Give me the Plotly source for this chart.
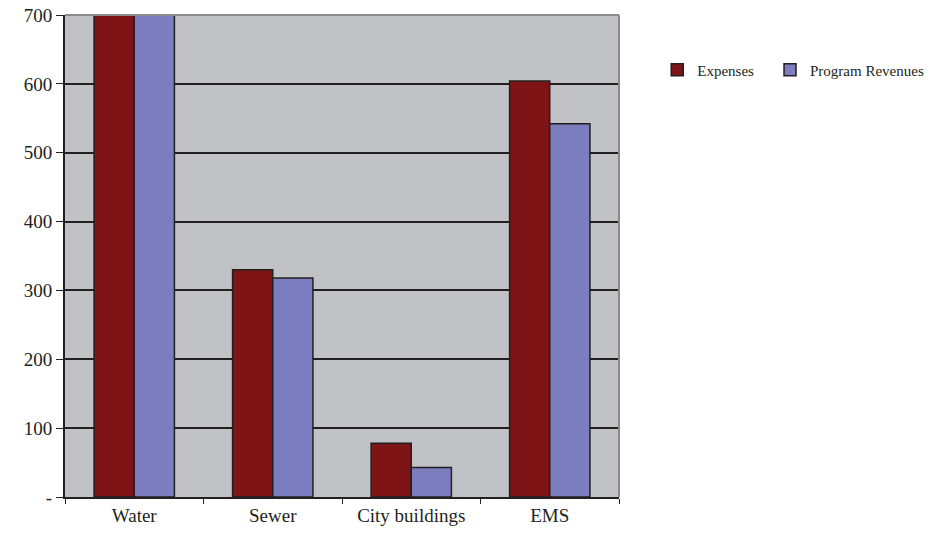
import plotly.graph_objects as go

categories = ["Water", "Sewer", "City buildings", "EMS"]
expenses = [900, 330, 78, 604]
program_revenues = [880, 318, 43, 542]
y_tick_vals = [0, 100, 200, 300, 400, 500, 600, 700]
y_tick_text = ["-", "100", "200", "300", "400", "500", "600", "700"]

fig = go.Figure()
fig.add_trace(go.Bar(
    x=categories, y=expenses, name="Expenses",
    marker=dict(color="#7F1416", line=dict(color="#231F20", width=1.5)),
    legend="legend",
))
fig.add_trace(go.Bar(
    x=categories, y=program_revenues, name="Program Revenues",
    marker=dict(color="#7B7DBE", line=dict(color="#231F20", width=1.5)),
    legend="legend2",
))

legend_style = dict(
    orientation="h", y=0.886, xanchor="left", yanchor="middle",
    font=dict(family="Liberation Serif", size=15, color="#231F20"),
    bgcolor="rgba(0,0,0,0)", itemwidth=30,
)

fig.update_layout(
    width=931, height=533,
    margin=dict(l=65, r=312, t=15, b=36, autoexpand=False),
    paper_bgcolor="white",
    plot_bgcolor="#C1C2C6",
    barmode="group",
    bargap=0.42,
    bargroupgap=0,
    font=dict(family="Liberation Serif", size=19, color="#231F20"),
    legend=dict(x=1.069, **legend_style),
    legend2=dict(x=1.2726, **legend_style),
    showlegend=True,
    xaxis=dict(
        showline=True, linecolor="#231F20", linewidth=2,
        ticks="outside", tickson="boundaries", ticklen=5, tickcolor="#231F20",
        showgrid=False, tickfont=dict(size=19),
    ),
    yaxis=dict(
        range=[0, 700], tickvals=y_tick_vals, ticktext=y_tick_text,
        showline=True, linecolor="#231F20", linewidth=2,
        ticks="outside", ticklen=7, tickcolor="#231F20",
        showgrid=True, gridcolor="#231F20", gridwidth=1.5,
        zeroline=False, tickfont=dict(size=19),
    ),
)
fig.add_shape(type="line", xref="paper", yref="paper", x0=0, x1=1, y0=1, y1=1,
              line=dict(color="#8A8A8A", width=2), layer="above")
fig.add_shape(type="line", xref="paper", yref="paper", x0=1, x1=1, y0=0, y1=1,
              line=dict(color="#8A8A8A", width=2), layer="above")

fig.write_html("out.html")
